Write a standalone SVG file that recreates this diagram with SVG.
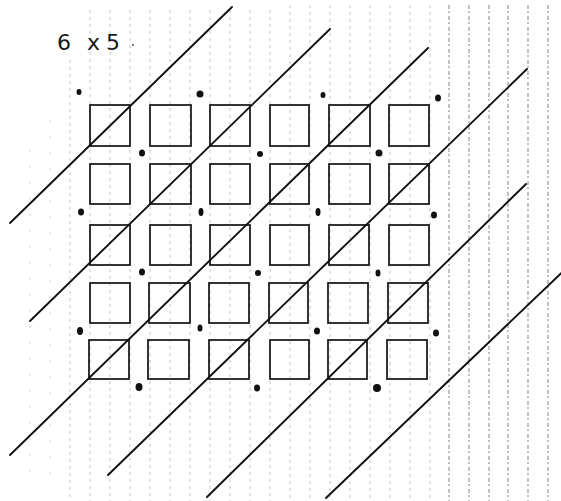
<svg xmlns="http://www.w3.org/2000/svg" width="561" height="501" viewBox="0 0 561 501">
<style>
.g1{stroke:#c4c4c4;stroke-width:1;stroke-dasharray:3 4;fill:none}
.g2{stroke:#999;stroke-width:1.2;stroke-dasharray:4 2 2 3;fill:none}
.sq{fill:none;stroke:#1e1e1e;stroke-width:1.8}
.ln{stroke:#111;stroke-width:1.9;fill:none;stroke-linecap:round}
.dt{fill:#111}
.lbl{font-family:"DejaVu Sans","Liberation Sans",sans-serif;font-size:22px;fill:#1a1a1a}
</style>
<rect width="561" height="501" fill="#fff"/>
<g id="paper">
<path class="g1" d="M70 60V501M90 10V501M110 10V501M130 10V501M150 10V501M170 10V501M190 10V501M210 10V501M230 10V501M250 10V501M270 10V501M290 5V501M310 5V501M330 5V501M350 5V501M370 5V501M390 5V501M410 5V501M430 5V501"/>
<path class="g2" d="M449 5V501M469 5V501M489 5V501M508 5V501M528 5V501M548 5V501"/>
<path stroke="#ccc" stroke-width="1" stroke-dasharray="2 14" d="M30 150V480M50 120V480"/>
</g>
<g id="label"><text class="lbl" x="57 75 87 106" y="50">6 x5</text><circle cx="133" cy="45" r="1" fill="#555"/></g>
<g id="squares">
<rect class="sq" x="90" y="105" width="40" height="41"/><rect class="sq" x="150" y="105" width="41" height="41"/><rect class="sq" x="210" y="105" width="40" height="41"/><rect class="sq" x="270" y="105" width="39" height="41"/><rect class="sq" x="329" y="105" width="41" height="41"/><rect class="sq" x="389" y="105" width="40" height="41"/>
<rect class="sq" x="90" y="164" width="40" height="40"/><rect class="sq" x="150" y="164" width="41" height="40"/><rect class="sq" x="210" y="164" width="40" height="40"/><rect class="sq" x="270" y="164" width="39" height="40"/><rect class="sq" x="329" y="164" width="41" height="40"/><rect class="sq" x="389" y="164" width="40" height="40"/>
<rect class="sq" x="90" y="225" width="40" height="40"/><rect class="sq" x="150" y="225" width="41" height="40"/><rect class="sq" x="210" y="225" width="40" height="40"/><rect class="sq" x="270" y="225" width="39" height="40"/><rect class="sq" x="329" y="225" width="40" height="40"/><rect class="sq" x="389" y="225" width="40" height="40"/>
<rect class="sq" x="90" y="283" width="40" height="40"/><rect class="sq" x="149" y="283" width="41" height="40"/><rect class="sq" x="209" y="283" width="40" height="40"/><rect class="sq" x="269" y="283" width="39" height="40"/><rect class="sq" x="328" y="283" width="40" height="40"/><rect class="sq" x="388" y="283" width="40" height="40"/>
<rect class="sq" x="89" y="340" width="40" height="39"/><rect class="sq" x="148" y="340" width="41" height="39"/><rect class="sq" x="209" y="340" width="40" height="39"/><rect class="sq" x="270" y="340" width="39" height="39"/><rect class="sq" x="328" y="340" width="39" height="39"/><rect class="sq" x="387" y="340" width="40" height="39"/>
</g>
<g id="connectors">
<line class="ln" x1="10" y1="223" x2="232" y2="7"/>
<line class="ln" x1="30" y1="321" x2="330" y2="29"/>
<line class="ln" x1="10" y1="455" x2="428" y2="48"/>
<line class="ln" x1="108" y1="475" x2="527" y2="69"/>
<line class="ln" x1="207" y1="497" x2="526" y2="184"/>
<line class="ln" x1="326" y1="498" x2="575" y2="260"/>
</g>
<g id="dots">
<ellipse class="dt" cx="79" cy="92" rx="2.5" ry="3"/><ellipse class="dt" cx="200" cy="94" rx="3.5" ry="3.5"/><ellipse class="dt" cx="323" cy="95" rx="2.5" ry="3"/><ellipse class="dt" cx="438" cy="98" rx="3" ry="3.5"/>
<ellipse class="dt" cx="142" cy="153" rx="3" ry="3.5"/><ellipse class="dt" cx="260" cy="154" rx="3" ry="3"/><ellipse class="dt" cx="379" cy="153" rx="3.5" ry="3.5"/>
<ellipse class="dt" cx="81" cy="212" rx="3" ry="3.5"/><ellipse class="dt" cx="201" cy="212" rx="2.5" ry="4"/><ellipse class="dt" cx="318" cy="212" rx="2.5" ry="4"/><ellipse class="dt" cx="434" cy="215" rx="3" ry="3.5"/>
<ellipse class="dt" cx="142" cy="272" rx="3" ry="3.5"/><ellipse class="dt" cx="258" cy="273" rx="3" ry="3"/><ellipse class="dt" cx="378" cy="273" rx="2.5" ry="3.5"/>
<ellipse class="dt" cx="80" cy="331" rx="3" ry="4"/><ellipse class="dt" cx="200" cy="328" rx="2.5" ry="3.5"/><ellipse class="dt" cx="317" cy="331" rx="3" ry="3.5"/><ellipse class="dt" cx="436" cy="333" rx="3" ry="3.5"/>
<ellipse class="dt" cx="139" cy="387" rx="3.5" ry="4"/><ellipse class="dt" cx="257" cy="388" rx="3" ry="3.5"/><ellipse class="dt" cx="377" cy="388" rx="4" ry="4"/>
</g>
</svg>
